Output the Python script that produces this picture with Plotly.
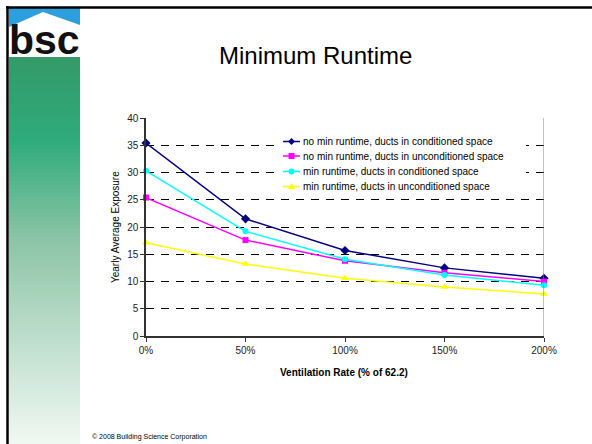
import plotly.graph_objects as go

# ---- data ----
categories = [0, 50, 100, 150, 200]
tick_labels = ["0%", "50%", "100%", "150%", "200%"]
series_names = [
    "no min runtime, ducts in conditioned space",
    "no min runtime, ducts in unconditioned space",
    "min runtime, ducts in conditioned space",
    "min runtime, ducts in unconditioned space",
]
no_min_cond = [35.4, 21.5, 15.7, 12.5, 10.6]
no_min_uncond = [25.4, 17.6, 13.8, 11.6, 10.0]
min_cond = [30.3, 19.2, 14.1, 11.2, 9.3]
min_uncond = [17.1, 13.2, 10.6, 9.0, 7.7]
y_ticks = [0, 5, 10, 15, 20, 25, 30, 35, 40]

W, H = 592, 444
L, R, T, B = 146, 544, 118, 336  # plot area pixel box
FONT = "Arial, Liberation Sans, sans-serif"


def px(xp):
    return (xp - L) / (R - L)


def py(yp):
    return (B - yp) / (B - T)


styles = [
    dict(color="#000080", symbol="diamond", size=7),
    dict(color="#FF00FF", symbol="square", size=6),
    dict(color="#00FFFF", symbol="circle", size=6),
    dict(color="#FFFF00", symbol="triangle-up", size=7),
]
values = [no_min_cond, no_min_uncond, min_cond, min_uncond]

fig = go.Figure()
for name, vals, st in zip(series_names, values, styles):
    fig.add_trace(go.Scatter(
        x=categories, y=vals, name=name, mode="lines+markers",
        line=dict(color=st["color"], width=1.5),
        marker=dict(color=st["color"], symbol=st["symbol"], size=st["size"]),
        cliponaxis=False, showlegend=False,
    ))

shapes = []
# sidebar gradient
stops = [(57, (0x33, 0x9a, 0x68)), (140, (0x2f, 0xab, 0x7b)), (240, (0x8c, 0xc4, 0xa6)),
         (330, (0xb9, 0xdc, 0xc9)), (444, (0xf0, 0xf8, 0xf2))]
y0 = 57
step = 4
while y0 < 444:
    yc = y0 + step / 2
    c = stops[-1][1]
    for (a, ca), (b, cb) in zip(stops[:-1], stops[1:]):
        if a <= yc <= b:
            f = (yc - a) / (b - a)
            c = tuple(int(round(ca[i] + f * (cb[i] - ca[i]))) for i in range(3))
            break
    shapes.append(dict(type="rect", xref="paper", yref="paper", layer="below",
                       x0=px(9), x1=px(80), y0=py(min(y0 + step + 0.5, 444)), y1=py(y0),
                       fillcolor="rgb(%d,%d,%d)" % c, line=dict(width=0)))
    y0 += step
# logo: blue sky, white house
shapes.append(dict(type="rect", xref="paper", yref="paper", layer="below",
                   x0=px(9), x1=px(80), y0=py(57), y1=py(8),
                   fillcolor="#2c9fdc", line=dict(width=0)))
path = "M {} {} L {} {} L {} {} L {} {} L {} {} Z".format(
    px(9), py(27), px(43), py(12), px(80), py(25), px(80), py(57), px(9), py(57))
shapes.append(dict(type="path", xref="paper", yref="paper", layer="below", path=path,
                   fillcolor="#ffffff", line=dict(width=0)))
# slide borders
shapes.append(dict(type="line", xref="paper", yref="paper", x0=px(7.5), x1=px(7.5),
                   y0=py(6), y1=py(444), line=dict(color="#000000", width=2.5)))
shapes.append(dict(type="line", xref="paper", yref="paper", x0=px(6), x1=px(592),
                   y0=py(7.5), y1=py(7.5), line=dict(color="#000000", width=2.5)))
# right plot border
shapes.append(dict(type="line", xref="x", yref="paper", x0=200, x1=200, y0=0, y1=1,
                   line=dict(color="#808080", width=1)))

annotations = [
    dict(text="<b>bsc</b>", x=px(44), y=py(40), xref="paper", yref="paper", showarrow=False,
         font=dict(family=FONT, size=41, color="#111111"),
         xanchor="center", yanchor="middle"),
    dict(text="Minimum Runtime", x=px(315), y=py(55), xref="paper", yref="paper",
         showarrow=False, font=dict(family=FONT, size=24, color="#000000"),
         xanchor="center", yanchor="middle"),
    dict(text="Yearly Average Exposure", x=px(115), y=py(227), xref="paper", yref="paper",
         showarrow=False, textangle=-90,
         font=dict(family=FONT, size=10, color="#000000"),
         xanchor="center", yanchor="middle"),
    dict(text="<b>Ventilation Rate (% of 62.2)</b>", x=px(344), y=py(372), xref="paper",
         yref="paper", showarrow=False,
         font=dict(family=FONT, size=10, color="#000000"),
         xanchor="center", yanchor="middle"),
    dict(text="© 2008 Building Science Corporation", x=px(90), y=py(437), xref="paper",
         yref="paper", showarrow=False,
         font=dict(family=FONT, size=7, color="#000000"),
         xanchor="left", yanchor="middle"),
]

# ---- legend drawn in layout (compact, like the original) ----
shapes.append(dict(type="rect", xref="paper", yref="paper", layer="above",
                   x0=px(280), x1=px(526), y0=py(195), y1=py(133),
                   fillcolor="#ffffff", line=dict(width=0)))
leg_rows = [141.5, 156, 171.5, 186.5]
lx0, lx1 = 283, 300
lxc = (lx0 + lx1) / 2
for name, st, ry in zip(series_names, styles, leg_rows):
    shapes.append(dict(type="line", xref="paper", yref="paper", layer="above",
                       x0=px(lx0), x1=px(lx1), y0=py(ry), y1=py(ry),
                       line=dict(color=st["color"], width=1.5)))
    s = 3
    if st["symbol"] == "diamond":
        p = "M {} {} L {} {} L {} {} L {} {} Z".format(
            px(lxc), py(ry - 3.5), px(lxc + 3.5), py(ry), px(lxc), py(ry + 3.5),
            px(lxc - 3.5), py(ry))
        shapes.append(dict(type="path", xref="paper", yref="paper", layer="above", path=p,
                           fillcolor=st["color"], line=dict(width=0)))
    elif st["symbol"] == "square":
        shapes.append(dict(type="rect", xref="paper", yref="paper", layer="above",
                           x0=px(lxc - s), x1=px(lxc + s), y0=py(ry + s), y1=py(ry - s),
                           fillcolor=st["color"], line=dict(width=0)))
    elif st["symbol"] == "circle":
        shapes.append(dict(type="circle", xref="paper", yref="paper", layer="above",
                           x0=px(lxc - s), x1=px(lxc + s), y0=py(ry + s), y1=py(ry - s),
                           fillcolor=st["color"], line=dict(width=0)))
    else:
        p = "M {} {} L {} {} L {} {} Z".format(
            px(lxc), py(ry - 3.5), px(lxc + 3.5), py(ry + 2.5), px(lxc - 3.5), py(ry + 2.5))
        shapes.append(dict(type="path", xref="paper", yref="paper", layer="above", path=p,
                           fillcolor=st["color"], line=dict(width=0)))
    annotations.append(dict(text=name, x=px(301), y=py(ry), xref="paper", yref="paper",
                            showarrow=False, xanchor="left", yanchor="middle",
                            font=dict(family=FONT, size=10, color="#000000")))

fig.update_layout(
    width=W, height=H,
    margin=dict(l=L, r=W - R, t=T, b=H - B, pad=0),
    paper_bgcolor="#ffffff", plot_bgcolor="#ffffff",
    font=dict(family=FONT, size=10, color="#000000"),
    showlegend=False,
    shapes=shapes,
    annotations=annotations,
)
fig.update_xaxes(range=[0, 200], tickvals=categories, ticktext=tick_labels,
                 showline=True, linecolor="#333333", linewidth=1.5,
                 ticks="outside", ticklen=4, tickcolor="#333333",
                 showgrid=False, zeroline=False, fixedrange=True,
                 tickfont=dict(size=10, color="#222222"))
fig.update_yaxes(range=[0, 40], tickvals=y_ticks,
                 showline=True, linecolor="#333333", linewidth=1.5,
                 ticks="outside", ticklen=4, tickcolor="#333333",
                 showgrid=True, gridcolor="#000000", griddash="8px,7px", gridwidth=1,
                 zeroline=False, fixedrange=True,
                 tickfont=dict(size=10, color="#222222"))

fig.write_html("out.html", config={"displayModeBar": False},
               post_script="document.body.style.margin='0';document.body.style.overflow='hidden';")
